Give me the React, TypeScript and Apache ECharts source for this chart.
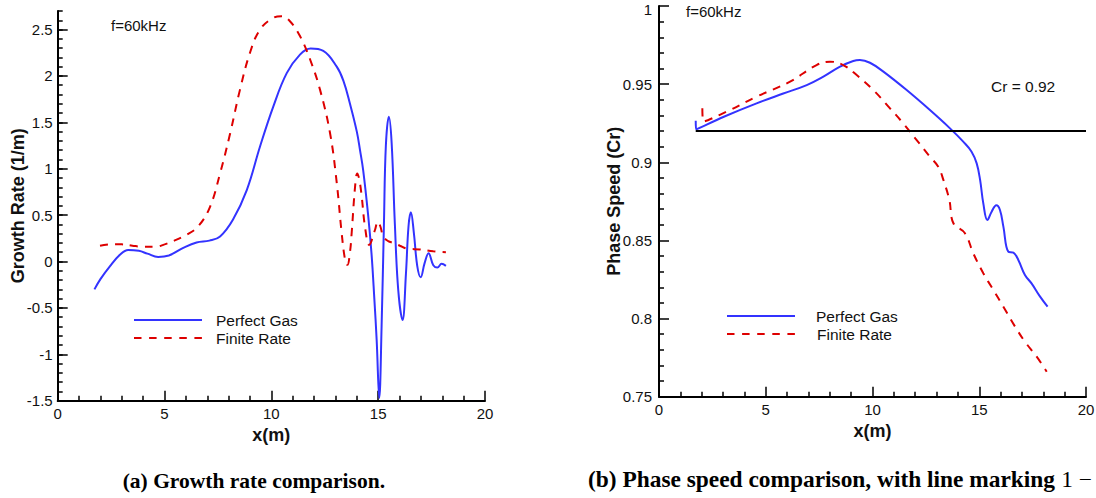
import React, { useEffect, useRef } from "react";
import * as echarts from "echarts";

// ---------- data ----------
const xTicks = [0, 5, 10, 15, 20];
const growthTicks = [-1.5, -1, -0.5, 0, 0.5, 1, 1.5, 2, 2.5];
const phaseTicks = [0.75, 0.8, 0.85, 0.9, 0.95, 1];

const pgGrowthX = [1.72, 2.0, 2.45, 2.9, 3.3, 3.8, 4.2, 4.7, 5.2, 5.9, 6.5, 7.1, 7.6, 8.2, 8.85, 9.47, 10.09, 10.72, 11.34, 11.84, 12.43, 13.06, 13.37, 13.68, 14.0, 14.15, 14.3, 14.53, 14.69, 14.82, 14.93, 15.05, 15.16, 15.27, 15.36, 15.5, 15.63, 15.78, 15.94, 16.14, 16.3, 16.42, 16.53, 16.67, 16.83, 16.99, 17.17, 17.36, 17.58, 17.77, 17.97, 18.17];
const pgGrowthY = [-0.3, -0.19, -0.05, 0.07, 0.125, 0.115, 0.085, 0.05, 0.065, 0.15, 0.205, 0.225, 0.27, 0.45, 0.77, 1.24, 1.67, 2.03, 2.23, 2.295, 2.27, 2.1, 1.95, 1.7, 1.4, 1.2, 0.98, 0.5, 0.08, -0.4, -0.85, -1.47, -0.7, 0.41, 1.25, 1.56, 1.28, 0.41, -0.31, -0.63, -0.13, 0.38, 0.53, 0.31, -0.05, -0.17, -0.02, 0.09, -0.04, -0.065, -0.025, -0.047];

const frGrowthX = [1.98, 2.5, 3.0, 3.5, 4.0, 4.6, 5.0, 5.41, 6.04, 6.58, 7.13, 7.6, 8.07, 8.53, 9.0, 9.47, 10.09, 10.48, 10.87, 11.34, 11.81, 12.28, 12.75, 13.06, 13.29, 13.45, 13.56, 13.68, 13.76, 13.92, 14.02, 14.12, 14.23, 14.38, 14.58, 14.85, 14.98, 15.1, 15.24, 15.47, 15.71, 16.02, 16.33, 16.96, 17.58, 18.17];
const frGrowthY = [0.17, 0.185, 0.185, 0.17, 0.16, 0.16, 0.185, 0.22, 0.29, 0.38, 0.59, 0.95, 1.38, 1.85, 2.25, 2.5, 2.626, 2.644, 2.59, 2.43, 2.18, 1.85, 1.38, 0.85, 0.31, 0.02, -0.036, 0.1, 0.31, 0.81, 0.95, 0.88, 0.7, 0.38, 0.18, 0.34, 0.43, 0.38, 0.27, 0.22, 0.2, 0.17, 0.14, 0.13, 0.11, 0.1];

const pgPhaseX = [1.72, 1.74, 3.01, 4.57, 5.82, 6.92, 7.7, 8.48, 9.1, 9.41, 9.88, 10.51, 11.6, 12.69, 13.63, 14.25, 14.64, 14.88, 15.04, 15.19, 15.38, 15.58, 15.8, 15.97, 16.13, 16.36, 16.6, 16.83, 17.14, 17.45, 17.85, 18.2];
const pgPhaseY = [0.9266, 0.9211, 0.929, 0.9377, 0.944, 0.9494, 0.9548, 0.9612, 0.9648, 0.9654, 0.9637, 0.958, 0.9462, 0.9334, 0.9217, 0.9132, 0.9068, 0.8993, 0.8887, 0.8737, 0.863, 0.8684, 0.8725, 0.8695, 0.8588, 0.8428, 0.8422, 0.8375, 0.8279, 0.8225, 0.814, 0.8076];

const frPhaseX = [2.03, 2.08, 3.17, 4.57, 6.14, 7.38, 8.01, 8.63, 9.26, 10.04, 10.82, 11.44, 12.07, 12.69, 13.08, 13.32, 13.6, 13.79, 14.33, 14.72, 15.19, 15.66, 16.13, 16.68, 17.14, 17.69, 18.16];
const frPhaseY = [0.9345, 0.926, 0.9324, 0.942, 0.9516, 0.9622, 0.9644, 0.9622, 0.9558, 0.9462, 0.9345, 0.9249, 0.9142, 0.9036, 0.8972, 0.8887, 0.8759, 0.861, 0.8546, 0.8418, 0.829, 0.8183, 0.8076, 0.7948, 0.7852, 0.7756, 0.766];

const crLevel = 0.92;
const crLineX = [1.72, 20];

const zip = (xs: number[], ys: number[]) => xs.map((x, i) => [x, ys[i]]);

// ---------- styles ----------
const BLUE = "#3333ff";
const RED = "#dd0000";
const SANS = '"Liberation Sans", Arial, Helvetica, sans-serif';
const SERIF = '"Liberation Serif", "Times New Roman", serif';

const tickLabel = { color: "#111", fontSize: 15, fontFamily: SANS };
const axisName = { color: "#111", fontSize: 18, fontWeight: "bold" as const, fontFamily: SANS };

function makeXAxis(gridIndex: number) {
  return {
    type: "value",
    gridIndex,
    min: 0,
    max: 20,
    interval: 5,
    name: "x(m)",
    nameLocation: "middle",
    nameGap: 19,
    nameTextStyle: axisName,
    axisLine: { show: true, onZero: false, lineStyle: { color: "#000", width: 2 } },
    axisTick: { show: true, inside: true, length: 10, lineStyle: { color: "#000", width: 1.5 }, customValues: xTicks },
    minorTick: { show: true, splitNumber: 5, length: 5, lineStyle: { color: "#000", width: 1.5 } },
    axisLabel: { ...tickLabel, margin: 5, customValues: xTicks },
    splitLine: { show: false },
    minorSplitLine: { show: false },
  };
}

export default function App() {
  const ref = useRef<HTMLDivElement>(null);
  useEffect(() => {
    if (!ref.current) return;
    const chart = echarts.init(ref.current, undefined, { renderer: "svg" });
    const lineBase = {
      type: "line",
      showSymbol: false,
      symbol: "none",
      smooth: 0.4,
      clip: true,
    };
    chart.setOption({
      animation: false,
      backgroundColor: "#fff",
      grid: [
        { left: 57.7, top: 11, width: 427.3, height: 389.7, outerBoundsMode: "none", containLabel: false },
        { left: 659, top: 6, width: 427, height: 390.7, outerBoundsMode: "none", containLabel: false },
      ],
      xAxis: [makeXAxis(0), makeXAxis(1)],
      yAxis: [
        {
          type: "value",
          gridIndex: 0,
          min: -1.5,
          max: 2.7,
          interval: 0.5,
          name: "Growth Rate (1/m)",
          nameLocation: "middle",
          nameGap: 31,
          nameRotate: 90,
          nameMoveOverlap: false,
          nameTextStyle: axisName,
          axisLine: { show: true, onZero: false, lineStyle: { color: "#000", width: 2 } },
          axisTick: { show: true, inside: true, length: 10, lineStyle: { color: "#000", width: 1.5 }, customValues: growthTicks },
          minorTick: { show: false },
          axisLabel: { ...tickLabel, margin: 5, customValues: growthTicks },
          splitLine: { show: false },
        },
        {
          type: "value",
          gridIndex: 1,
          min: 0.75,
          max: 1,
          interval: 0.05,
          name: "Phase Speed (Cr)",
          nameLocation: "middle",
          nameGap: 36.5,
          nameRotate: 90,
          nameMoveOverlap: false,
          nameTextStyle: axisName,
          axisLine: { show: true, onZero: false, lineStyle: { color: "#000", width: 2 } },
          axisTick: { show: true, inside: true, length: 10, lineStyle: { color: "#000", width: 1.5 }, customValues: phaseTicks },
          minorTick: { show: true, splitNumber: 5, length: 5, lineStyle: { color: "#000", width: 1.5 } },
          axisLabel: {
            ...tickLabel,
            margin: 7,
            customValues: phaseTicks,
            formatter: (v: number) => (v >= 1 ? "{t|1}" : String(v)),
            rich: { t: { color: "#111", fontSize: 15, fontFamily: SANS, padding: [6, 0, 0, 0] } },
          },
          splitLine: { show: false },
          minorSplitLine: { show: false },
        },
        {
          type: "value",
          gridIndex: 0,
          position: "left",
          offset: 0,
          min: -1.5,
          max: 2.7,
          interval: 0.1,
          axisLine: { show: false, onZero: false },
          axisTick: { show: true, inside: true, length: 5, lineStyle: { color: "#000", width: 1.5 } },
          axisLabel: { show: false },
          splitLine: { show: false },
        },
      ],
      series: [
        { ...lineBase, name: "Perfect Gas", xAxisIndex: 0, yAxisIndex: 0, data: zip(pgGrowthX, pgGrowthY), lineStyle: { color: BLUE, width: 2 }, itemStyle: { color: BLUE } },
        { ...lineBase, name: "Finite Rate", xAxisIndex: 0, yAxisIndex: 0, data: zip(frGrowthX, frGrowthY), lineStyle: { color: RED, width: 2, type: [8, 7] }, itemStyle: { color: RED } },
        { ...lineBase, name: "Perfect Gas", xAxisIndex: 1, yAxisIndex: 1, data: zip(pgPhaseX, pgPhaseY), lineStyle: { color: BLUE, width: 2 }, itemStyle: { color: BLUE } },
        { ...lineBase, name: "Finite Rate", xAxisIndex: 1, yAxisIndex: 1, data: zip(frPhaseX, frPhaseY), lineStyle: { color: RED, width: 2, type: [8, 7] }, itemStyle: { color: RED } },
        { type: "line", name: "Cr = 0.92", showSymbol: false, symbol: "none", xAxisIndex: 1, yAxisIndex: 1, data: crLineX.map((x) => [x, crLevel]), lineStyle: { color: "#000", width: 2 }, itemStyle: { color: "#000" } },
      ],
      graphic: [
        // left legend
        { type: "line", shape: { x1: 134, y1: 320, x2: 202, y2: 320 }, style: { stroke: BLUE, lineWidth: 2 } },
        { type: "text", x: 216, y: 320, style: { text: "Perfect Gas", font: `15.5px ${SANS}`, fill: "#111", textVerticalAlign: "middle" } },
        { type: "line", shape: { x1: 134, y1: 338, x2: 202, y2: 338 }, style: { stroke: RED, lineWidth: 2, lineDash: [7.5, 7.6] } },
        { type: "text", x: 216, y: 338, style: { text: "Finite Rate", font: `15.5px ${SANS}`, fill: "#111", textVerticalAlign: "middle" } },
        // right legend
        { type: "line", shape: { x1: 727, y1: 316, x2: 795, y2: 316 }, style: { stroke: BLUE, lineWidth: 2 } },
        { type: "text", x: 816, y: 316, style: { text: "Perfect Gas", font: `15.5px ${SANS}`, fill: "#111", textVerticalAlign: "middle" } },
        { type: "line", shape: { x1: 727, y1: 334, x2: 795, y2: 334 }, style: { stroke: RED, lineWidth: 2, lineDash: [7.5, 7.6] } },
        { type: "text", x: 817, y: 334, style: { text: "Finite Rate", font: `15.5px ${SANS}`, fill: "#111", textVerticalAlign: "middle" } },
        // annotations
        { type: "text", x: 111, y: 25, style: { text: "f=60kHz", font: `15px ${SANS}`, fill: "#111", textVerticalAlign: "middle" } },
        { type: "text", x: 686, y: 11, style: { text: "f=60kHz", font: `15px ${SANS}`, fill: "#111", textVerticalAlign: "middle" } },
        { type: "text", x: 991, y: 86, style: { text: "Cr = 0.92", font: `15.5px ${SANS}`, fill: "#111", textVerticalAlign: "middle" } },
        // captions
        { type: "text", x: 122.7, y: 481, style: { text: "(a) Growth rate comparison.", font: `bold 21.5px ${SERIF}`, fill: "#000", textVerticalAlign: "middle" } },
        {
          type: "text",
          x: 588,
          y: 480,
          scaleX: 1.04,
          style: {
            text: "{b|(b) Phase speed comparison, with line marking }{n|1 −}",
            fill: "#000",
            textVerticalAlign: "middle",
            rich: {
              b: { font: `bold 22.5px ${SERIF}`, fill: "#000" },
              n: { font: `22.5px ${SERIF}`, fill: "#000" },
            },
          },
        },
      ],
    });
    return () => chart.dispose();
  }, []);
  return <div ref={ref} style={{ position: "absolute", left: 0, top: 0, width: 1096, height: 498 }} />;
}
